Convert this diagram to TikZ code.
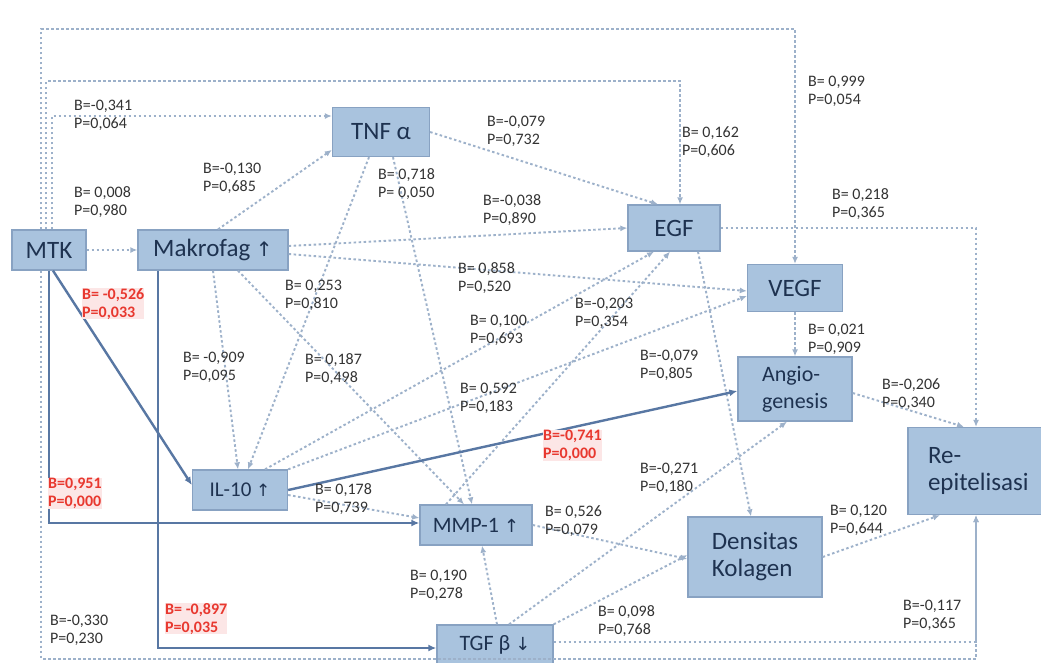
\documentclass[tikz,border=0pt]{standalone}
\usepackage{fontspec}
\setmainfont{Carlito}
\newfontfamily\symfont{DejaVu Sans}
\usetikzlibrary{arrows.meta,calc}
\definecolor{boxfill}{HTML}{A9C3DE}
\definecolor{boxline}{HTML}{88A2C2}
\definecolor{boxtext}{HTML}{1E3250}
\definecolor{dotcol}{HTML}{9DB1CA}
\definecolor{solidcol}{HTML}{5877A3}
\definecolor{redlab}{HTML}{E8382F}
\definecolor{redbg}{HTML}{FCE6E6}
\definecolor{labtext}{HTML}{333333}
\begin{document}
\begin{tikzpicture}[x=1pt,y=-1pt,
  var/.style={draw=boxline, fill=boxfill, line width=1.3pt, text=boxtext,
    inner sep=0pt, align=left, font=\fontsize{25}{27}\selectfont},
  dotline/.style={draw=dotcol, line width=1.9pt, dash pattern=on 2.5pt off 2.5pt,
    -{Latex[length=7pt,width=6pt]}},
  sigline/.style={draw=solidcol, line width=2.4pt, -{Latex[length=8pt,width=7pt]}},
  coef/.style={anchor=north west, align=left, inner sep=0pt, text=labtext,
    font=\fontsize{16}{18}\selectfont},
  sigcoef/.style={coef, text=redlab, fill=redbg, font=\fontsize{16}{18}\selectfont\bfseries}
]
\useasboundingbox (0,0) rectangle (1041,662);
\clip (0,0) rectangle (1041,662);
\fill[white] (0,0) rectangle (1041,662);

% variables
\node[var, minimum width=74pt, minimum height=40pt] (mtk) at (49,250) {MTK};
\node[var, minimum width=150pt, minimum height=40pt] (mak) at (213,250) {Makrofag {\symfont\fontsize{20}{22}\selectfont↑}};
\node[var, minimum width=97pt, minimum height=49pt] (tnf) at (381,132) {TNF α};
\node[var, minimum width=92pt, minimum height=46pt] (egf) at (674,228) {EGF};
\node[var, minimum width=95pt, minimum height=47pt] (vegf) at (795,288) {VEGF};
\node[var, minimum width=114pt, minimum height=64pt, font=\fontsize{22}{27}\selectfont] (angio) at (795,389) {Angio-\\genesis};
\node[var, minimum width=160pt, minimum height=87pt, text width=120pt] (reepi) at (988,471) {Re-\\epitelisasi};
\node[var, minimum width=95pt, minimum height=40pt, font=\fontsize{21}{24}\selectfont] (il) at (240,490) {IL-10 {\symfont\fontsize{17}{20}\selectfont↑}};
\node[var, minimum width=112pt, minimum height=40pt, font=\fontsize{22}{24}\selectfont] (mmp) at (476,525) {MMP-1 {\symfont\fontsize{18}{20}\selectfont↑}};
\node[var, minimum width=134pt, minimum height=80pt] (dens) at (755,557) {Densitas\\Kolagen};
\node[var, minimum width=116pt, minimum height=40pt, font=\fontsize{22}{24}\selectfont] (tgf) at (495,645) {TGF β {\symfont\fontsize{18}{20}\selectfont↓}};

% non-significant paths
\draw[dotline] ([xshift=3pt]mtk.north) |- ([yshift=16pt]tnf.west);
\draw[dotline] ([xshift=-3pt]mtk.north) -- ++(0,-148) -| ([xshift=6pt]egf.north);
\draw[dotline] ([xshift=-8pt]mtk.north) -- ++(0,-200) -| (vegf.north);
\draw[dotline] ([xshift=-8pt]mtk.south) -- ++(0,388) -| ([xshift=-12pt]reepi.south);
\draw[dotline] (mtk.east) -- (mak.west);
\draw[dotline] ([xshift=5pt]mak.north) -- (tnf.200);
\draw[dotline] ([yshift=4pt]mak.east) -- (egf.west);
\draw[dotline] ([yshift=-4pt]mak.east) -- ([yshift=-3pt]vegf.west);
\draw[dotline] (mak.south) -- ([xshift=-2pt]il.north);
\draw[dotline] ([xshift=25pt]mak.south) -- ([xshift=-12pt]mmp.north);
\draw[dotline] (tnf.east) -- ([xshift=-16pt]egf.north);
\draw[dotline] ([xshift=12pt]tnf.south) -- ([xshift=-4pt]mmp.north);
\draw[dotline] ([xshift=-12pt]tnf.south) -- ([xshift=8pt]il.north);
\draw[dotline] ([xshift=25pt]il.north) -- ([xshift=-20pt]egf.south);
\draw[dotline] (il.north east) -- ([yshift=-8pt]vegf.west);
\draw[dotline] ([yshift=-5pt]il.east) -- ([yshift=7pt]mmp.west);
\draw[dotline] ([xshift=-30pt]mmp.north) -- ([xshift=-4pt]egf.south);
\draw[dotline] ([xshift=24pt]egf.south) -- ([xshift=-4pt]dens.north);
\draw[dotline] (vegf.south) -- (angio.north);
\draw[dotline] ([yshift=-4pt]angio.east) -- ([xshift=-24pt]reepi.north);
\draw[dotline] (egf.east) -| ([xshift=-12pt]reepi.north);
\draw[dotline] (dens.east) -- ([xshift=-48pt]reepi.south);
\draw[dotline] ([xshift=2pt]tgf.north) -- ([xshift=6pt]mmp.south);
\draw[dotline] (tgf.north east) -- ([yshift=2pt]dens.west);
\draw[dotline] ([xshift=14pt]tgf.north) -- ([xshift=-8pt]angio.south);
\draw[dotline] ([yshift=3pt]tgf.east) -| ([xshift=-12pt]reepi.south);
\draw[dotline] (mmp.east) -- ([yshift=-2pt]dens.west);

% significant paths
\draw[sigline] ([xshift=4pt]mtk.south) -- ([yshift=5pt]il.west);
\draw[sigline] (mtk.south) |- ([yshift=2pt]mmp.west);
\draw[sigline] ([xshift=-55pt]mak.south) |- ([yshift=-3pt]tgf.west);
\draw[sigline] (il.east) -- ([yshift=-2pt]angio.west);

% path coefficients
\node[coef] (c1) at (74,100) {B=-0,341\\P=0,064};
\node[coef] (c2) at (203,163) {B=-0,130\\P=0,685};
\node[coef] (c3) at (74,186) {B= 0,008\\P=0,980};
\node[coef] (c4) at (487,116) {B=-0,079\\P=0,732};
\node[coef] (c5) at (378,168) {B= 0,718\\P= 0,050};
\node[coef] (c6) at (483,194) {B=-0,038\\P=0,890};
\node[coef] (c7) at (682,126) {B= 0,162\\P=0,606};
\node[coef] (c8) at (808,76) {B= 0,999\\P=0,054};
\node[coef] (c9) at (832,188) {B= 0,218\\P=0,365};
\node[coef] (c10) at (458,262) {B= 0,858\\P=0,520};
\node[coef] (c11) at (285,280) {B= 0,253\\P=0,810};
\node[coef] (c12) at (470,315) {B= 0,100\\P=0,693};
\node[coef] (c13) at (575,298) {B=-0,203\\P=0,354};
\node[coef] (c14) at (183,352) {B= -0,909\\P=0,095};
\node[coef] (c15) at (305,353) {B= 0,187\\P=0,498};
\node[coef] (c16) at (460,383) {B= 0,592\\P=0,183};
\node[coef] (c17) at (640,350) {B=-0,079\\P=0,805};
\node[coef] (c18) at (808,324) {B= 0,021\\P=0,909};
\node[coef] (c19) at (882,378) {B=-0,206\\P=0,340};
\node[coef] (c20) at (315,483) {B= 0,178\\P=0,739};
\node[coef] (c21) at (640,463) {B=-0,271\\P=0,180};
\node[coef] (c22) at (545,505) {B= 0,526\\P=0,079};
\node[coef] (c23) at (830,505) {B= 0,120\\P=0,644};
\node[coef] (c24) at (410,570) {B= 0,190\\P=0,278};
\node[coef] (c25) at (598,605) {B= 0,098\\P=0,768};
\node[coef] (c26) at (50,615) {B=-0,330\\P=0,230};
\node[coef] (c27) at (903,600) {B=-0,117\\P=0,365};
\node[sigcoef] (s1) at (82,288) {B= -0,526\\P=0,033};
\node[sigcoef] (s2) at (543,430) {B=-0,741\\P=0,000};
\node[sigcoef] (s3) at (48,478) {B=0,951\\P=0,000};
\node[sigcoef] (s4) at (165,603) {B= -0,897\\P=0,035};
\end{tikzpicture}
\end{document}
